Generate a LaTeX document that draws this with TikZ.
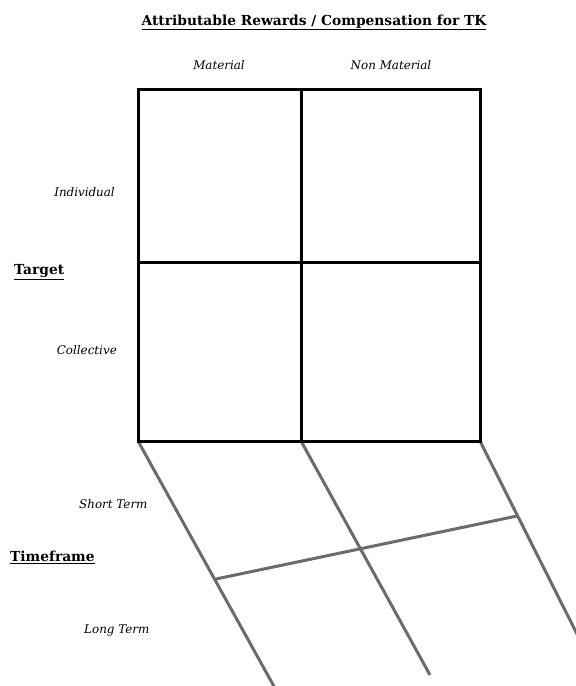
\documentclass[tikz,border=0pt]{standalone}
\usepackage{fontspec}
\setmainfont{DejaVu Serif}
\begin{document}
\begin{tikzpicture}[x=1pt,y=-1pt,
  gridline/.style={line width=3pt,black},
  greyline/.style={line width=3pt,draw=lineg},
  lab/.style={font=\itshape\fontsize{11.9}{14}\selectfont,inner sep=0pt},
  head/.style={font=\bfseries\fontsize{13.8}{16}\selectfont,inner sep=0pt}]
\definecolor{lineg}{HTML}{6B6B6B}
\useasboundingbox (0,0) rectangle (576,686);
% grid corners
\coordinate (tl) at (138,89);
\coordinate (tm) at (301,89);
\coordinate (tr) at (480,89);
\coordinate (ml) at (138,262);
\coordinate (mr) at (480,262);
\coordinate (bl) at (138,441);
\coordinate (bm) at (301,441);
\coordinate (br) at (480,441);
% grey lines ends
\coordinate (el) at (276,690);
\coordinate (em) at (430,675);
\coordinate (er) at (578,636);
\coordinate (hl) at (216,579);
\coordinate (hr) at (517,516);
% texts
\node[head,anchor=base] (title) at (314,25) {\underline{Attributable Rewards / Compensation for TK}};
\node[lab] (mat) at (219,65) {Material};
\node[lab] (nmat) at (391,65) {Non Material};
\node[lab,anchor=east] (ind) at (115,192) {Individual};
\node[head,anchor=west] (tgt) at (14,272) {\underline{Target}};
\node[lab,anchor=east] (col) at (117,350) {Collective};
\node[lab,anchor=west] (st) at (79,504) {Short Term};
\node[head,anchor=west] (tf) at (10,557) {\underline{Timeframe}};
\node[lab,anchor=west] (lt) at (84,630) {Long Term};
% grey lines
\draw[greyline] (bl) -- (el);
\draw[greyline] (bm) -- (em);
\draw[greyline] (br) -- (er);
\draw[greyline] (hl) -- (hr);
% grid
\draw[gridline] (tl) rectangle (br);
\draw[gridline] (tm) -- (bm);
\draw[gridline] (ml) -- (mr);
\end{tikzpicture}
\end{document}
